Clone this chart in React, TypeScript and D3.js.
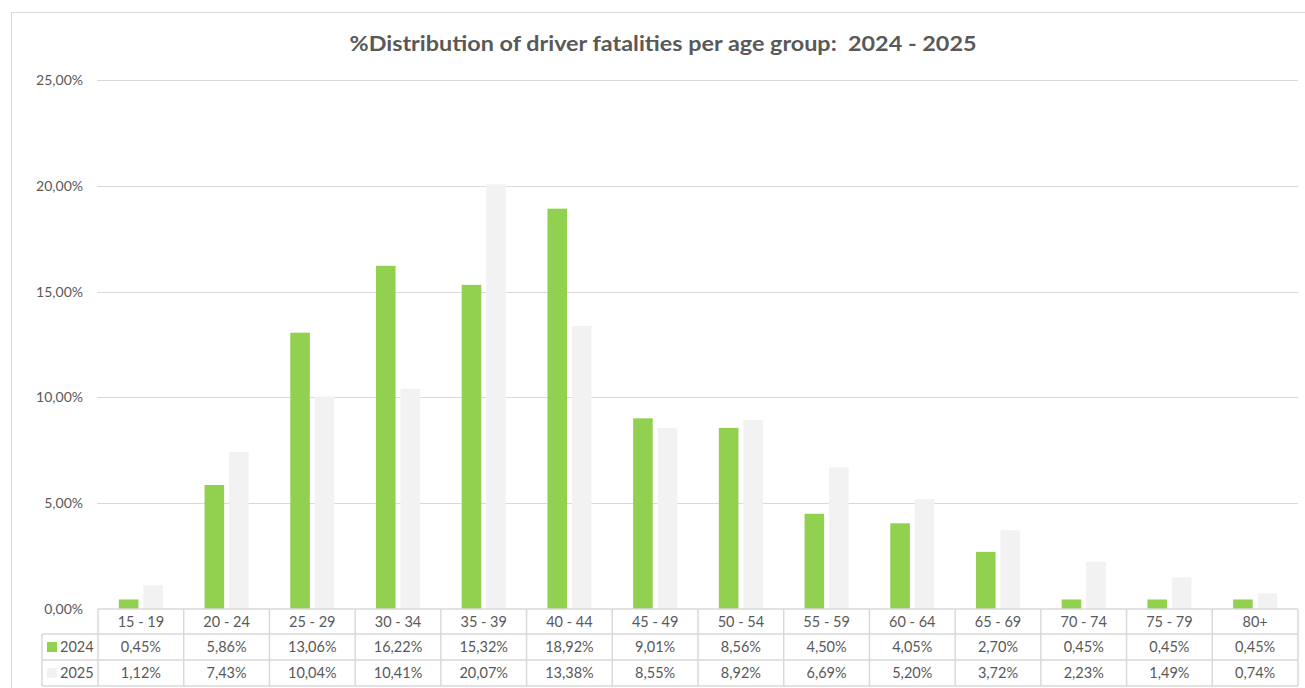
import React from "react";
import * as d3 from "d3";

const categories = ["15 - 19","20 - 24","25 - 29","30 - 34","35 - 39","40 - 44","45 - 49","50 - 54","55 - 59","60 - 64","65 - 69","70 - 74","75 - 79","80+"];
const values2024 = [0.45,5.86,13.06,16.22,15.32,18.92,9.01,8.56,4.50,4.05,2.70,0.45,0.45,0.45];
const values2025 = [1.12,7.43,10.04,10.41,20.07,13.38,8.55,8.92,6.69,5.20,3.72,2.23,1.49,0.74];
const seriesNames = ["2024","2025"];
const yTicks = [0,5,10,15,20,25];
const title = "%Distribution of driver fatalities per age group:  2024 - 2025";

const W = 1305, H = 688;
const FONT = "Lato, 'Open Sans', sans-serif";
const TEXT = "#595959";
const GRID = "#D9D9D9";
const colors = ["#92D050", "#F2F2F2"];

const fmt = (v: number) => v.toFixed(2).replace(".", ",") + "%";

export default function App() {
  const left = 98, right = 1298, top = 80, bottom = 609;
  const x = d3.scaleBand<string>().domain(categories).range([left, right]).padding(0);
  const bw = x.bandwidth();
  const groupW = 44;
  const x1 = d3.scaleBand<string>().domain(seriesNames)
    .range([(bw - groupW) / 2, (bw + groupW) / 2]).paddingInner(0.2);
  const y = d3.scaleLinear().domain([0, 25]).range([bottom, top]);
  const data = [values2024, values2025];

  const rowH = [bottom, 634, 660, 686];
  const legendLeft = 42;

  return (
    <svg width={W} height={H} style={{ position: "absolute", left: 0, top: 0, background: "#fff" }}
      fontFamily={FONT}>
      <rect x={11.5} y={12.5} width={1300} height={700} fill="#fff" stroke={GRID} strokeWidth={1} />
      <text x={663} y={51} textAnchor="middle" fontSize={20} fontWeight="bold" fill={TEXT}
        style={{ whiteSpace: "pre" }}
        textLength={627} lengthAdjust="spacingAndGlyphs">{title}</text>
      {yTicks.map(t => (
        <g key={t}>
          {t > 0 && <line x1={left - 1} x2={right} y1={Math.round(y(t)) + 0.5} y2={Math.round(y(t)) + 0.5} stroke={GRID} strokeWidth={1} />}
          <text x={83} y={y(t) + 5} textAnchor="end" fontSize={14} fill={TEXT}>{fmt(t)}</text>
        </g>
      ))}
      {categories.map((c, i) => (
        <g key={c}>
          {seriesNames.map((s, j) => (
            <rect key={s} x={(x(c) as number) + (x1(s) as number)} y={y(data[j][i])}
              width={x1.bandwidth()} height={bottom - y(data[j][i])} fill={colors[j]} />
          ))}
        </g>
      ))}
      {/* data table */}
      <g stroke={GRID} strokeWidth={1.5} fill="none">
        <line x1={left} x2={right} y1={rowH[0]} y2={rowH[0]} />
        <line x1={legendLeft} x2={right} y1={rowH[1]} y2={rowH[1]} />
        <line x1={legendLeft} x2={right} y1={rowH[2]} y2={rowH[2]} />
        <line x1={legendLeft} x2={right} y1={rowH[3]} y2={rowH[3]} />
        <line x1={legendLeft} x2={legendLeft} y1={rowH[1]} y2={rowH[3]} />
        {categories.map(c => (
          <line key={c} x1={x(c)} x2={x(c)} y1={rowH[0]} y2={rowH[3]} />
        ))}
        <line x1={right} x2={right} y1={rowH[0]} y2={rowH[3]} />
      </g>
      {categories.map((c, i) => (
        <g key={c} fontSize={14.5} fill={TEXT} textAnchor="middle">
          <text x={(x(c) as number) + bw / 2} y={rowH[0] + 18}>{c}</text>
          <text x={(x(c) as number) + bw / 2} y={rowH[1] + 18}>{fmt(values2024[i])}</text>
          <text x={(x(c) as number) + bw / 2} y={rowH[2] + 18}>{fmt(values2025[i])}</text>
        </g>
      ))}
      {seriesNames.map((s, j) => (
        <g key={s}>
          <rect x={47} y={rowH[j + 1] + 8} width={10} height={10} fill={colors[j]} />
          <text x={60} y={rowH[j + 1] + 18} fontSize={14.5} fill={TEXT}>{s}</text>
        </g>
      ))}
    </svg>
  );
}
